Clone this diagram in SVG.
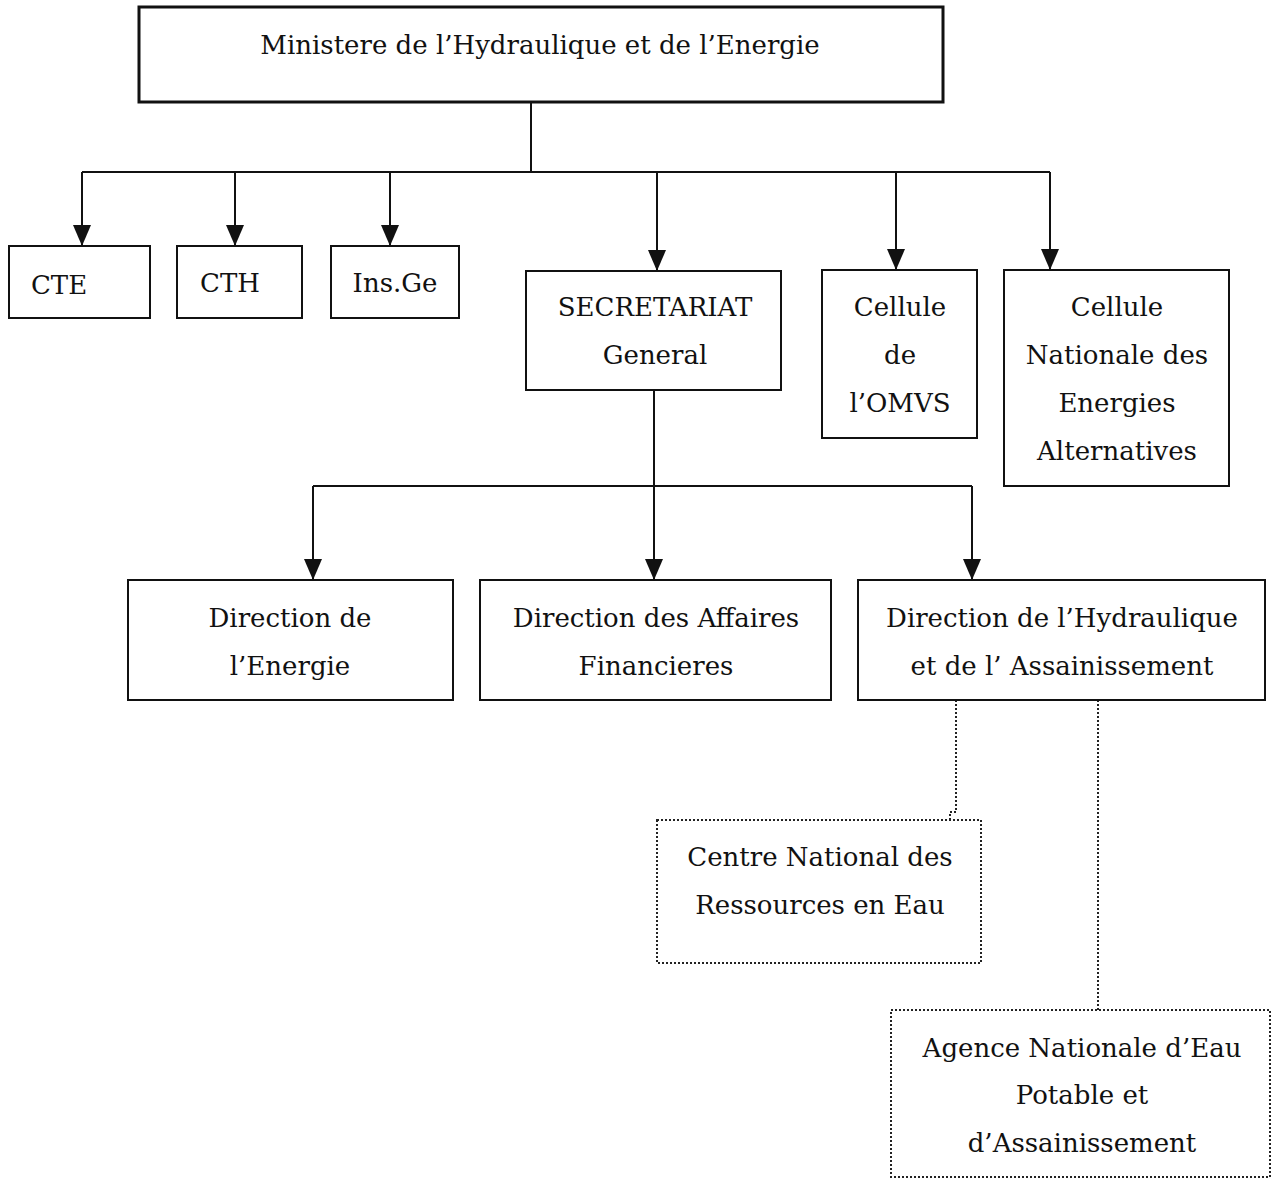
<svg xmlns="http://www.w3.org/2000/svg" width="1279" height="1179" viewBox="0 0 1279 1179">
<style>
.box{fill:#fff;stroke:#111;stroke-width:2}
.dot{fill:#fff;stroke:#222;stroke-width:2;stroke-dasharray:2 2}
.t{font-family:"DejaVu Serif","Liberation Serif",serif;font-size:26px;fill:#111;text-anchor:middle}
.c{fill:none;stroke:#111;stroke-width:2}
.cd{fill:none;stroke:#222;stroke-width:2;stroke-dasharray:2 2}
</style>
<rect width="1279" height="1179" fill="#fff"/>
<g id="connectors">
<path class="c" d="M531,102 V172"/>
<path class="c" d="M82,172 H1050"/>
<path class="c" d="M82,172 V246"/>
<path class="c" d="M235,172 V246"/>
<path class="c" d="M390,172 V246"/>
<path class="c" d="M657,172 V271"/>
<path class="c" d="M896,172 V270"/>
<path class="c" d="M1050,172 V270"/>
<path class="c" d="M654,390 V580"/>
<path class="c" d="M313,486 H972"/>
<path class="c" d="M313,486 V580"/>
<path class="c" d="M972,486 V580"/>
<path class="cd" d="M956,700 V812 H950 V820"/>
<path class="cd" d="M1098,700 V1010"/>
<g fill="#111">
<path d="M73,225 L91,225 L82,246 Z"/>
<path d="M226,225 L244,225 L235,246 Z"/>
<path d="M381,225 L399,225 L390,246 Z"/>
<path d="M648,250 L666,250 L657,271 Z"/>
<path d="M887,249 L905,249 L896,270 Z"/>
<path d="M1041,249 L1059,249 L1050,270 Z"/>
<path d="M304,559 L322,559 L313,580 Z"/>
<path d="M645,559 L663,559 L654,580 Z"/>
<path d="M963,559 L981,559 L972,580 Z"/>
</g>
</g>
<g id="ministere">
<rect x="139" y="7" width="804" height="95" fill="#fff" stroke="#111" stroke-width="3"/>
<text class="t" x="540" y="54">Ministere de l’Hydraulique et de l’Energie</text>
</g>
<g id="cte">
<rect class="box" x="9" y="246" width="141" height="72"/>
<text class="t" x="59" y="294">CTE</text>
</g>
<g id="cth">
<rect class="box" x="177" y="246" width="125" height="72"/>
<text class="t" x="230" y="292">CTH</text>
</g>
<g id="insge">
<rect class="box" x="331" y="246" width="128" height="72"/>
<text class="t" x="395" y="292">Ins.Ge</text>
</g>
<g id="secretariat">
<rect class="box" x="526" y="271" width="255" height="119"/>
<text class="t" x="655" y="316">SECRETARIAT</text>
<text class="t" x="655" y="364">General</text>
</g>
<g id="omvs">
<rect class="box" x="822" y="270" width="155" height="168"/>
<text class="t" x="900" y="316">Cellule</text>
<text class="t" x="900" y="364">de</text>
<text class="t" x="900" y="412">l’OMVS</text>
</g>
<g id="cnea">
<rect class="box" x="1004" y="270" width="225" height="216"/>
<text class="t" x="1117" y="316">Cellule</text>
<text class="t" x="1117" y="364">Nationale des</text>
<text class="t" x="1117" y="412">Energies</text>
<text class="t" x="1117" y="460">Alternatives</text>
</g>
<g id="dir-energie">
<rect class="box" x="128" y="580" width="325" height="120"/>
<text class="t" x="290" y="627">Direction de</text>
<text class="t" x="290" y="675">l’Energie</text>
</g>
<g id="dir-affaires">
<rect class="box" x="480" y="580" width="351" height="120"/>
<text class="t" x="656" y="627">Direction des Affaires</text>
<text class="t" x="656" y="675">Financieres</text>
</g>
<g id="dir-hydraulique">
<rect class="box" x="858" y="580" width="407" height="120"/>
<text class="t" x="1062" y="627">Direction de l’Hydraulique</text>
<text class="t" x="1062" y="675">et de l’ Assainissement</text>
</g>
<g id="cnre">
<rect class="dot" x="657" y="820" width="324" height="143"/>
<text class="t" x="820" y="866">Centre National des</text>
<text class="t" x="820" y="914">Ressources en Eau</text>
</g>
<g id="anea">
<rect class="dot" x="891" y="1010" width="379" height="167"/>
<text class="t" x="1082" y="1057">Agence Nationale d’Eau</text>
<text class="t" x="1082" y="1104">Potable et</text>
<text class="t" x="1082" y="1152">d’Assainissement</text>
</g>
</svg>
